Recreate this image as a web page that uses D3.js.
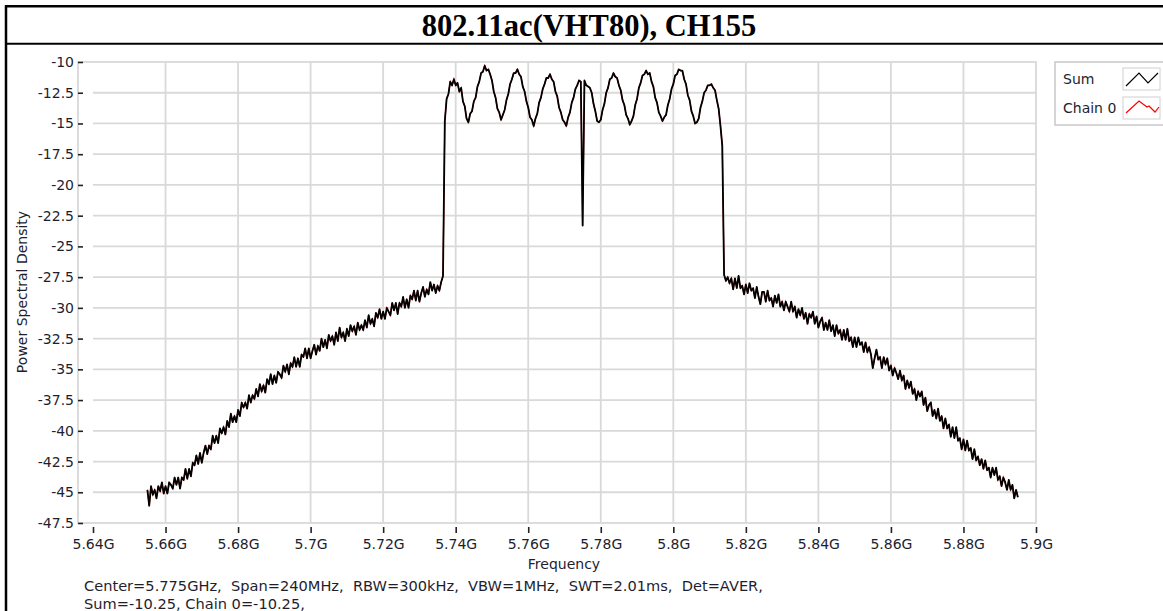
<!DOCTYPE html>
<html>
<head>
<meta charset="utf-8">
<script src="https://cdn.jsdelivr.net/npm/d3@7"></script>
<style>
  html, body { margin: 0; padding: 0; background: #ffffff; }
  svg { display: block; }
  text { font-family: "DejaVu Sans", Verdana, sans-serif; fill: #1e1e2e; }
</style>
</head>
<body>
<svg id="chart" width="1163" height="611"></svg>
<script>
// ---------------- data ----------------
const chartTitle = "802.11ac(VHT80), CH155";
const xTickValues = [5.64e9, 5.66e9, 5.68e9, 5.70e9, 5.72e9, 5.74e9, 5.76e9, 5.78e9, 5.80e9, 5.82e9, 5.84e9, 5.86e9, 5.88e9, 5.90e9];
const xTickLabels = ["5.64G", "5.66G", "5.68G", "5.7G", "5.72G", "5.74G", "5.76G", "5.78G", "5.8G", "5.82G", "5.84G", "5.86G", "5.88G", "5.9G"];
const yTickValues = [-10, -12.5, -15, -17.5, -20, -22.5, -25, -27.5, -30, -32.5, -35, -37.5, -40, -42.5, -45, -47.5];
const yTickLabels = ["-10", "-12.5", "-15", "-17.5", "-20", "-22.5", "-25", "-27.5", "-30", "-32.5", "-35", "-37.5", "-40", "-42.5", "-45", "-47.5"];
const seriesNames = ["Sum", "Chain 0"];
const footerLines = [
  "Center=5.775GHz,  Span=240MHz,  RBW=300kHz,  VBW=1MHz,  SWT=2.01ms,  Det=AVER,",
  "Sum=-10.25, Chain 0=-10.25,"
];
// trace sweep: 481 points, 0.5 MHz apart, starting at 5.655 GHz (Center 5.775 GHz, Span 240 MHz)
const traceStartHz = 5.655e9;
const traceStepHz = 0.5e6;
// Sum trace (dBm)
const sumPsd = [
  -44.8,-46.1,-44.5,-45.2,-44.8,-45.5,-44.5,-44.9,-44.2,-45.1,-44.5,-45.1,-44.2,-44.4,-44.7,-43.8,-44.4,-43.8,-44.7,-43.8,
  -44.0,-43.1,-43.9,-43.1,-43.7,-42.6,-42.8,-42.0,-42.7,-41.8,-42.6,-41.8,-41.2,-41.9,-41.2,-41.5,-40.4,-41.0,-40.4,-41.0,
  -39.8,-40.2,-39.7,-40.3,-39.2,-39.7,-38.6,-39.3,-38.8,-39.3,-38.3,-38.8,-37.7,-38.1,-37.7,-38.2,-37.1,-37.7,-37.1,-37.4,
  -36.6,-37.2,-36.2,-36.8,-36.3,-36.9,-35.8,-36.2,-35.4,-36.2,-35.5,-36.1,-35.2,-35.4,-35.7,-34.7,-35.2,-34.6,-35.4,-34.5,
  -34.8,-34.0,-34.8,-34.1,-34.8,-33.8,-34.0,-33.3,-34.1,-33.3,-34.1,-33.5,-33.0,-33.8,-33.1,-33.5,-32.5,-33.2,-32.6,-33.3,
  -32.2,-32.7,-32.3,-33.0,-32.0,-32.7,-31.6,-32.4,-32.0,-32.7,-31.7,-32.3,-31.4,-31.9,-31.5,-32.2,-31.2,-31.8,-31.4,-31.8,
  -31.0,-31.6,-30.6,-31.3,-30.9,-31.5,-30.4,-30.8,-30.1,-30.9,-30.3,-30.9,-30.0,-30.3,-30.6,-29.6,-30.2,-29.6,-30.5,-29.6,
  -29.9,-29.1,-30.0,-29.3,-30.0,-29.0,-29.3,-28.6,-29.4,-28.6,-29.5,-28.8,-28.3,-29.1,-28.5,-28.9,-27.9,-28.6,-28.1,-28.8,
  -28.2,-28.6,-27.9,-27.4,-14.8,-13.0,-12.6,-11.6,-11.9,-11.4,-11.9,-11.7,-12.4,-12.1,-13.2,-13.6,-14.6,-14.9,-14.2,-14.0,
  -13.2,-12.9,-12.0,-11.6,-10.9,-10.8,-10.3,-10.7,-10.6,-11.0,-11.5,-12.4,-12.9,-13.8,-14.1,-14.7,-14.3,-13.9,-13.1,-12.6,
  -11.8,-11.4,-10.9,-10.9,-10.6,-11.0,-11.2,-12.0,-12.4,-13.2,-13.7,-14.5,-14.7,-15.2,-14.6,-14.2,-13.3,-12.9,-12.2,-11.8,
  -11.3,-11.3,-11.0,-11.4,-11.6,-12.4,-12.8,-13.7,-14.1,-14.7,-14.9,-15.2,-14.5,-14.1,-13.3,-12.9,-12.2,-11.9,-11.5,-11.6,
  -23.3,-11.5,-11.9,-12.0,-12.1,-12.5,-13.4,-14.0,-14.8,-14.9,-14.7,-13.9,-13.4,-12.5,-12.1,-11.4,-11.3,-10.9,-11.2,-11.3,
  -11.9,-12.3,-13.1,-13.5,-14.3,-14.6,-15.1,-14.8,-14.4,-13.5,-13.0,-12.1,-11.7,-11.1,-11.0,-10.7,-11.0,-10.9,-11.6,-12.0,
  -12.9,-13.3,-14.1,-14.4,-14.8,-14.5,-14.3,-13.5,-13.0,-12.2,-11.8,-11.1,-11.0,-10.6,-10.7,-10.7,-11.4,-11.8,-12.7,-13.1,
  -14.0,-14.4,-15.0,-14.9,-14.6,-13.7,-13.2,-12.5,-12.3,-11.9,-11.9,-11.8,-12.1,-12.3,-13.1,-13.8,-15.2,-16.8,-27.3,-27.8,
  -27.5,-28.0,-27.6,-28.5,-27.6,-28.4,-27.4,-28.4,-28.2,-28.9,-28.1,-28.8,-28.0,-28.6,-28.4,-29.2,-28.3,-29.1,-29.7,-28.7,
  -28.7,-29.5,-28.6,-29.4,-29.2,-29.9,-29.0,-29.6,-28.9,-29.9,-29.5,-30.2,-29.5,-29.9,-30.3,-29.5,-30.3,-29.9,-30.8,-30.1,
  -30.6,-30.0,-30.9,-30.4,-31.3,-30.5,-30.8,-30.3,-31.3,-30.7,-31.6,-31.1,-30.8,-31.8,-31.2,-31.8,-31.0,-31.9,-31.4,-32.3,
  -31.4,-32.1,-31.8,-32.6,-31.8,-32.6,-31.7,-32.7,-32.4,-33.2,-32.4,-33.2,-32.4,-33.0,-32.8,-33.6,-32.8,-33.6,-33.2,-33.8,
  -34.9,-34.1,-33.4,-34.2,-34.0,-34.9,-34.0,-34.6,-34.1,-35.1,-34.7,-35.5,-34.9,-35.3,-35.8,-35.1,-35.9,-35.5,-36.6,-35.9,
  -36.5,-36.0,-37.0,-36.6,-37.5,-36.8,-37.2,-36.8,-37.9,-37.3,-38.4,-37.9,-37.7,-38.8,-38.3,-39.0,-38.2,-39.2,-38.8,-39.8,
  -39.0,-39.8,-39.5,-40.5,-39.7,-40.6,-39.7,-40.8,-40.6,-41.5,-40.7,-41.6,-40.8,-41.6,-41.4,-42.3,-41.5,-42.4,-42.1,-42.8,
  -42.3,-43.1,-42.4,-43.2,-43.0,-43.8,-43.0,-43.6,-43.0,-44.0,-43.7,-44.5,-43.8,-44.2,-44.8,-44.0,-44.8,-44.4,-45.5,-44.8,
  -45.4
];
// Chain 0 is identical to Sum (single chain), drawn underneath in red
const chain0Psd = sumPsd.slice();

// ---------------- drawing ----------------
const svg = d3.select("#chart");
const plotLeft = 78, plotRight = 1036, plotTop = 62, plotBottom = 523;

const x = d3.scaleLinear().domain([5.64e9, 5.9e9]).range([93, 1036]);
const y = d3.scaleLinear().domain([-47.5, -10]).range([plotBottom, plotTop]);

// outer document frame
svg.append("line").attr("x1", 6).attr("x2", 6).attr("y1", 5).attr("y2", 611)
  .attr("stroke", "#000").attr("stroke-width", 2.5);
svg.append("line").attr("x1", 5).attr("x2", 1163).attr("y1", 6.2).attr("y2", 6.2)
  .attr("stroke", "#000").attr("stroke-width", 2.5);
svg.append("line").attr("x1", 5).attr("x2", 1163).attr("y1", 43.7).attr("y2", 43.7)
  .attr("stroke", "#000").attr("stroke-width", 2);

svg.append("text").attr("x", 589).attr("y", 36)
  .attr("text-anchor", "middle")
  .style("font-family", "'Liberation Serif', 'Times New Roman', serif")
  .style("font-weight", "bold").style("font-size", "30.5px").style("fill", "#000")
  .text(chartTitle);

// grid
const gridColor = "#d9d9d9";
const grid = svg.append("g");
grid.selectAll("line.h").data(yTickValues.slice(1, -1)).enter().append("line")
  .attr("x1", x(5.64e9)).attr("x2", plotRight)
  .attr("y1", d => y(d)).attr("y2", d => y(d))
  .attr("stroke", gridColor).attr("stroke-width", 1.8);
grid.selectAll("line.v").data(xTickValues.slice(1, -1)).enter().append("line")
  .attr("x1", d => x(d)).attr("x2", d => x(d))
  .attr("y1", plotTop).attr("y2", plotBottom)
  .attr("stroke", gridColor).attr("stroke-width", 1.8);
grid.append("rect").attr("x", plotLeft).attr("y", plotTop)
  .attr("width", plotRight - plotLeft).attr("height", plotBottom - plotTop)
  .attr("fill", "none").attr("stroke", gridColor).attr("stroke-width", 1.8);

// axes
const yAxis = d3.axisLeft(y).tickValues(yTickValues)
  .tickFormat((d, i) => yTickLabels[i]).tickSize(5).tickPadding(4);
const gy = svg.append("g").attr("transform", `translate(${plotLeft + 5},0)`).call(yAxis);
gy.select(".domain").remove();
gy.selectAll(".tick line").attr("stroke", "#222").attr("stroke-width", 1.6);
gy.selectAll(".tick text").style("font-size", "14px").style("fill", "#1e1e2e");

const xAxis = d3.axisBottom(x).tickValues(xTickValues)
  .tickFormat((d, i) => xTickLabels[i]).tickSize(6).tickPadding(6);
const gx = svg.append("g").attr("transform", `translate(0,${plotBottom + 4})`).call(xAxis);
gx.select(".domain").remove();
gx.selectAll(".tick line").attr("stroke", "#222").attr("stroke-width", 1.6);
gx.selectAll(".tick text").style("font-size", "14px").style("fill", "#1e1e2e");

// axis titles
svg.append("text").attr("x", 564).attr("y", 569).attr("text-anchor", "middle")
  .style("font-size", "14px").text("Frequency");
svg.append("text").attr("transform", "translate(27,292) rotate(-90)")
  .attr("text-anchor", "middle").style("font-size", "14px").text("Power Spectral Density");

// traces
const line = d3.line()
  .x((d, i) => x(traceStartHz + i * traceStepHz))
  .y(d => y(d));
svg.append("path").datum(chain0Psd).attr("d", line)
  .attr("fill", "none").attr("stroke", "#ff0000").attr("stroke-width", 1.2);
svg.append("path").datum(sumPsd).attr("d", line)
  .attr("fill", "none").attr("stroke", "#000").attr("stroke-width", 1.8)
  .attr("stroke-linejoin", "round");

// legend
const lg = svg.append("g").attr("transform", "translate(1055,62)");
lg.append("rect").attr("x", 0).attr("y", 0).attr("width", 120).attr("height", 63)
  .attr("fill", "#fff").attr("stroke", "#c8c8c8").attr("stroke-width", 1.5);
const legendColors = ["#000", "#ff0000"];
const legendRows = lg.selectAll("g.row").data(seriesNames).enter().append("g")
  .attr("transform", (d, i) => `translate(0,${6 + i * 29})`);
legendRows.append("text").attr("x", 8).attr("y", 16).style("font-size", "14px").text(d => d);
legendRows.append("rect").attr("x", 68).attr("y", 0).attr("width", 37).attr("height", 22)
  .attr("fill", "#fff").attr("stroke", "#d0d0d0").attr("stroke-width", 1);
legendRows.append("polyline")
  .attr("points", (d, i) => i === 0 ? "71,18 84,5 93,15 103,5" : "71,16 84,4 92,10 94,9 100,15 104,10")
  .attr("fill", "none").attr("stroke", (d, i) => legendColors[i]).attr("stroke-width", 1.2);

// footer
svg.selectAll("text.footer").data(footerLines).enter().append("text")
  .attr("class", "footer").attr("x", 84).attr("y", (d, i) => 591 + i * 17.5)
  .attr("xml:space", "preserve").style("white-space", "pre").style("font-size", "14.6px")
  .text(d => d);
</script>
</body>
</html>
